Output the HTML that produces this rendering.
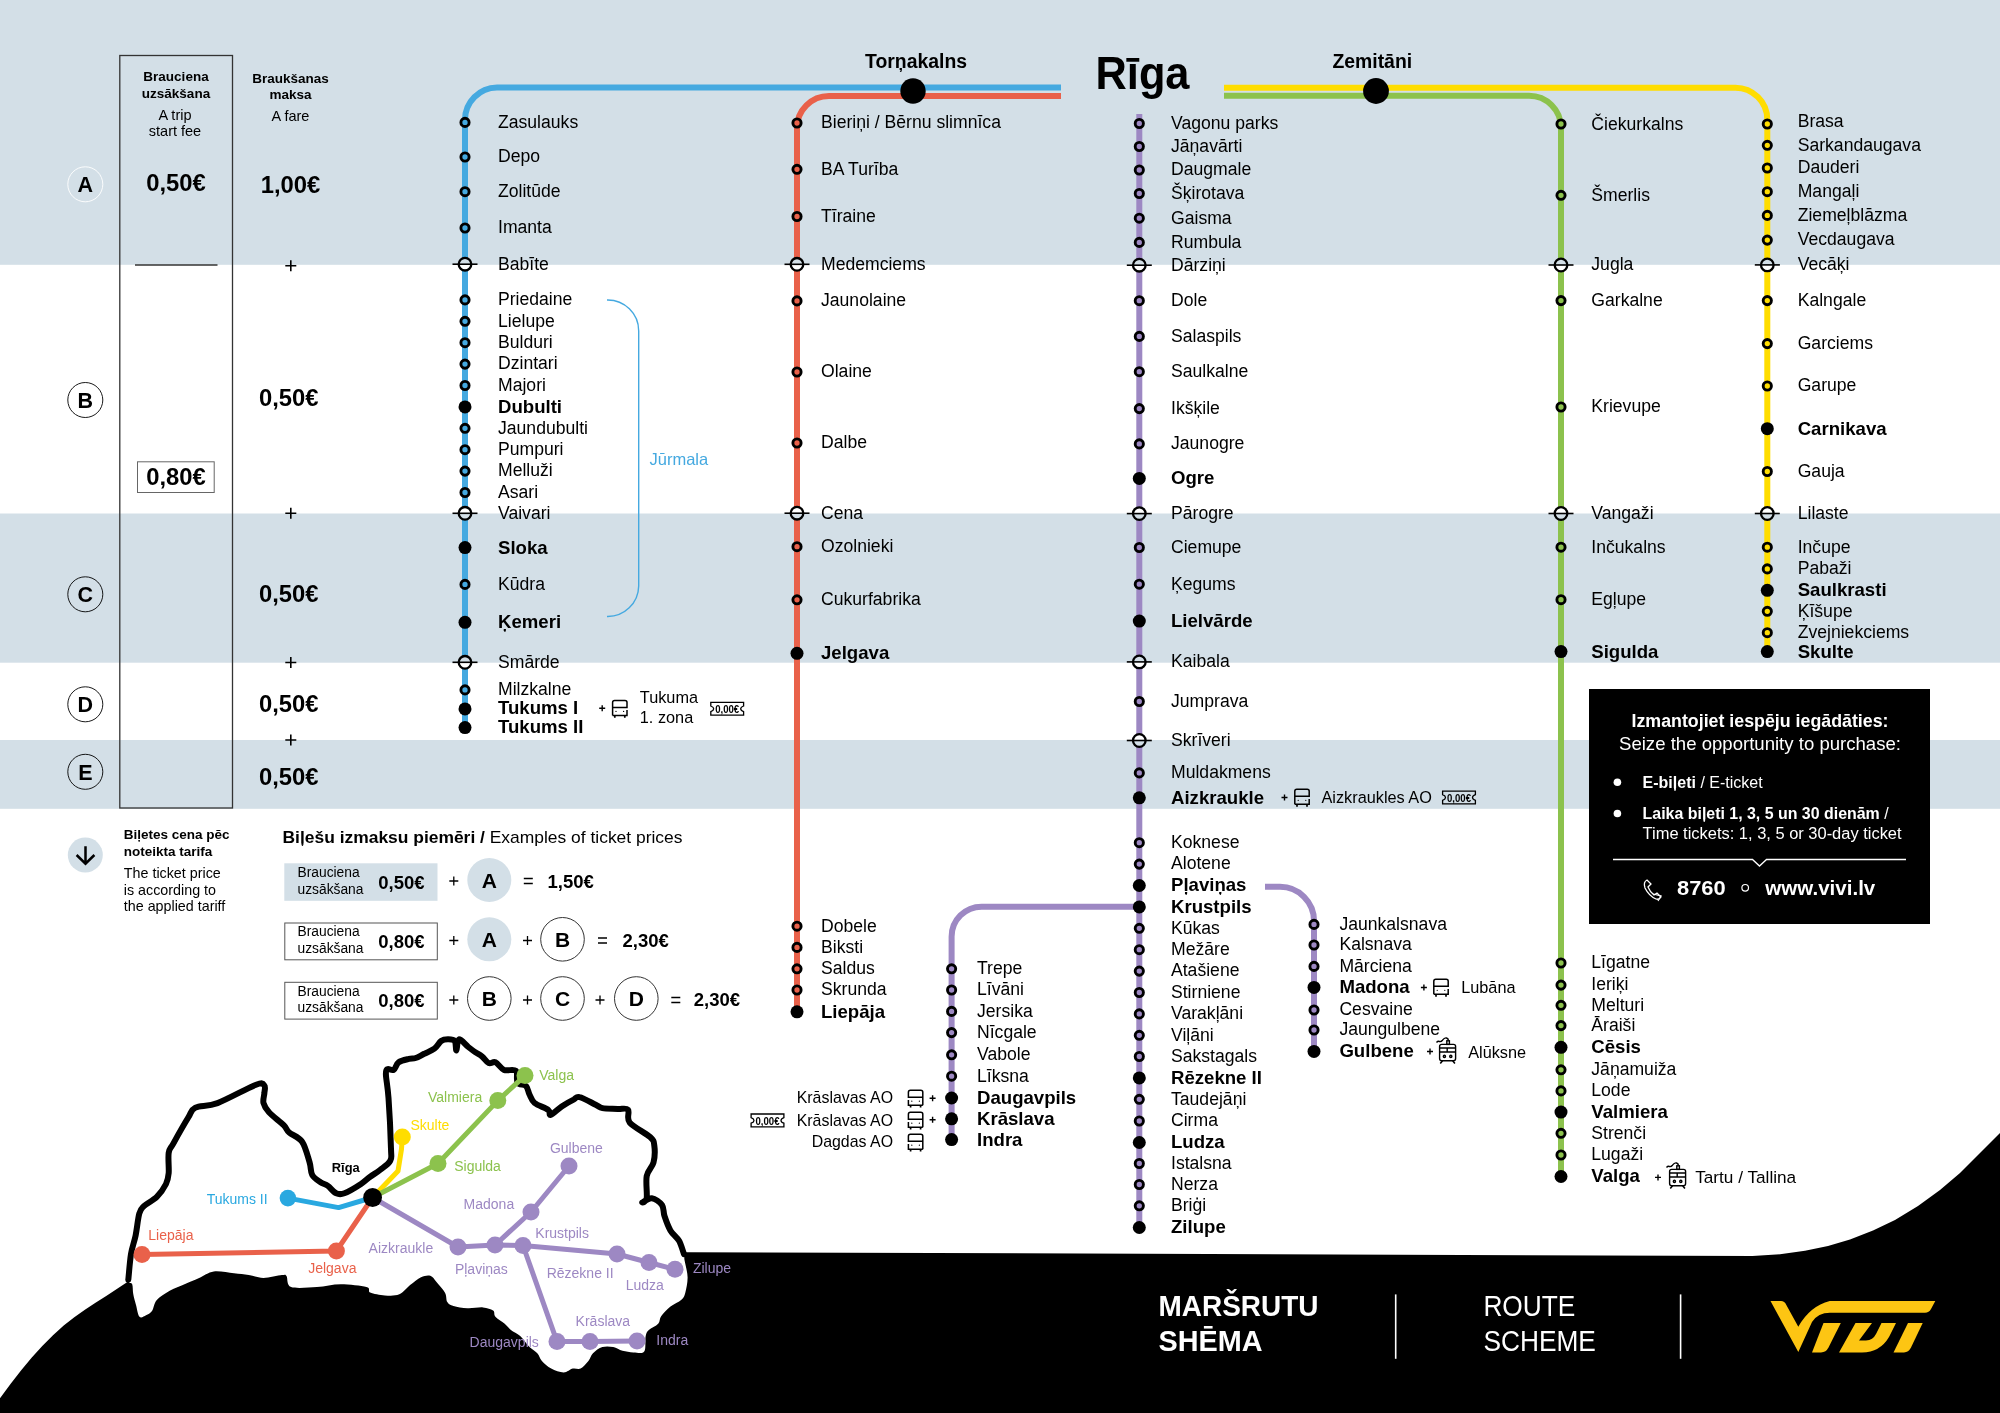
<!DOCTYPE html>
<html><head><meta charset="utf-8"><title>Maršrutu shēma</title>
<style>html,body{margin:0;padding:0;background:#fff;} svg{display:block;will-change:transform;} text{font-family:"Liberation Sans",sans-serif;}</style>
</head><body>
<svg width="2000" height="1413" viewBox="0 0 2000 1413">
<rect x="0" y="0" width="2000" height="1413" fill="#fff"/>
<rect x="0" y="0" width="2000" height="264.8" fill="#d3dfe7"/>
<rect x="0" y="513.5" width="2000" height="149.2" fill="#d3dfe7"/>
<rect x="0" y="740" width="2000" height="68.8" fill="#d3dfe7"/>
<path d="M1061,87.6 H497 A32.4,32.4 0 0 0 465,120 V727.6" fill="none" stroke="#45a9e0" stroke-width="6"/>
<path d="M1061,96 H829 A32,32 0 0 0 797,128 V1011.8" fill="none" stroke="#e9614a" stroke-width="6"/>
<path d="M1139.3,114 V1227.5" fill="none" stroke="#9d88c3" stroke-width="6"/>
<path d="M1139.3,906.7 H981.6 A30,30 0 0 0 951.6,936.7 V1139.6" fill="none" stroke="#9d88c3" stroke-width="6"/>
<path d="M1265,886.8 H1280 A34,34 0 0 1 1314,920.8 V1051.4" fill="none" stroke="#9d88c3" stroke-width="6"/>
<path d="M1224,95.7 H1529 A32,32 0 0 1 1561,127.7 V1176.5" fill="none" stroke="#8cc24d" stroke-width="6"/>
<path d="M1224,87.7 H1735 A32,32 0 0 1 1767.3,119.7 V651.6" fill="none" stroke="#ffdd00" stroke-width="6"/>
<circle cx="913" cy="91" r="12.7" fill="#000"/>
<circle cx="1376" cy="91" r="12.9" fill="#000"/>
<circle cx="465" cy="122.4" r="4.1" fill="#45a9e0" stroke="#000" stroke-width="2.9"/>
<text x="498.0" y="127.7" font-size="17.6" fill="#000" >Zasulauks</text>
<circle cx="465" cy="157.0" r="4.1" fill="#45a9e0" stroke="#000" stroke-width="2.9"/>
<text x="498.0" y="162.3" font-size="17.6" fill="#000" >Depo</text>
<circle cx="465" cy="191.7" r="4.1" fill="#45a9e0" stroke="#000" stroke-width="2.9"/>
<text x="498.0" y="197.0" font-size="17.6" fill="#000" >Zolitūde</text>
<circle cx="465" cy="228.0" r="4.1" fill="#45a9e0" stroke="#000" stroke-width="2.9"/>
<text x="498.0" y="233.3" font-size="17.6" fill="#000" >Imanta</text>
<path d="M458.7,264.2 A6.3,6.3 0 0 1 471.3,264.2 Z" fill="#d3dfe7"/>
<path d="M458.7,264.2 A6.3,6.3 0 0 0 471.3,264.2 Z" fill="#fff"/>
<circle cx="465" cy="264.2" r="6.3" fill="none" stroke="#000" stroke-width="2.3"/>
<line x1="452.5" y1="264.2" x2="477.5" y2="264.2" stroke="#000" stroke-width="1.6"/>
<text x="498.0" y="269.5" font-size="17.6" fill="#000" >Babīte</text>
<circle cx="465" cy="299.9" r="4.1" fill="#45a9e0" stroke="#000" stroke-width="2.9"/>
<text x="498.0" y="305.2" font-size="17.6" fill="#000" >Priedaine</text>
<circle cx="465" cy="321.3" r="4.1" fill="#45a9e0" stroke="#000" stroke-width="2.9"/>
<text x="498.0" y="326.6" font-size="17.6" fill="#000" >Lielupe</text>
<circle cx="465" cy="342.7" r="4.1" fill="#45a9e0" stroke="#000" stroke-width="2.9"/>
<text x="498.0" y="348.0" font-size="17.6" fill="#000" >Bulduri</text>
<circle cx="465" cy="364.1" r="4.1" fill="#45a9e0" stroke="#000" stroke-width="2.9"/>
<text x="498.0" y="369.4" font-size="17.6" fill="#000" >Dzintari</text>
<circle cx="465" cy="385.5" r="4.1" fill="#45a9e0" stroke="#000" stroke-width="2.9"/>
<text x="498.0" y="390.8" font-size="17.6" fill="#000" >Majori</text>
<circle cx="465" cy="406.9" r="6.5" fill="#000"/>
<text x="498.0" y="412.8" font-size="18.6" font-weight="bold" fill="#000" >Dubulti</text>
<circle cx="465" cy="428.3" r="4.1" fill="#45a9e0" stroke="#000" stroke-width="2.9"/>
<text x="498.0" y="433.6" font-size="17.6" fill="#000" >Jaundubulti</text>
<circle cx="465" cy="449.7" r="4.1" fill="#45a9e0" stroke="#000" stroke-width="2.9"/>
<text x="498.0" y="455.0" font-size="17.6" fill="#000" >Pumpuri</text>
<circle cx="465" cy="471.1" r="4.1" fill="#45a9e0" stroke="#000" stroke-width="2.9"/>
<text x="498.0" y="476.4" font-size="17.6" fill="#000" >Melluži</text>
<circle cx="465" cy="492.5" r="4.1" fill="#45a9e0" stroke="#000" stroke-width="2.9"/>
<text x="498.0" y="497.8" font-size="17.6" fill="#000" >Asari</text>
<path d="M458.7,513.3 A6.3,6.3 0 0 1 471.3,513.3 Z" fill="#fff"/>
<path d="M458.7,513.3 A6.3,6.3 0 0 0 471.3,513.3 Z" fill="#d3dfe7"/>
<circle cx="465" cy="513.3" r="6.3" fill="none" stroke="#000" stroke-width="2.3"/>
<line x1="452.5" y1="513.3" x2="477.5" y2="513.3" stroke="#000" stroke-width="1.6"/>
<text x="498.0" y="518.6" font-size="17.6" fill="#000" >Vaivari</text>
<circle cx="465" cy="547.6" r="6.5" fill="#000"/>
<text x="498.0" y="553.5" font-size="18.6" font-weight="bold" fill="#000" >Sloka</text>
<circle cx="465" cy="584.4" r="4.1" fill="#45a9e0" stroke="#000" stroke-width="2.9"/>
<text x="498.0" y="589.7" font-size="17.6" fill="#000" >Kūdra</text>
<circle cx="465" cy="622.3" r="6.5" fill="#000"/>
<text x="498.0" y="628.2" font-size="18.6" font-weight="bold" fill="#000" >Ķemeri</text>
<path d="M458.7,662.3 A6.3,6.3 0 0 1 471.3,662.3 Z" fill="#d3dfe7"/>
<path d="M458.7,662.3 A6.3,6.3 0 0 0 471.3,662.3 Z" fill="#fff"/>
<circle cx="465" cy="662.3" r="6.3" fill="none" stroke="#000" stroke-width="2.3"/>
<line x1="452.5" y1="662.3" x2="477.5" y2="662.3" stroke="#000" stroke-width="1.6"/>
<text x="498.0" y="667.6" font-size="17.6" fill="#000" >Smārde</text>
<circle cx="465" cy="689.9" r="4.1" fill="#45a9e0" stroke="#000" stroke-width="2.9"/>
<text x="498.0" y="695.3" font-size="17.6" fill="#000" >Milzkalne</text>
<circle cx="465" cy="708.9" r="6.5" fill="#000"/>
<text x="498.0" y="714.1" font-size="18.6" font-weight="bold" fill="#000" >Tukums I</text>
<circle cx="465" cy="727.6" r="6.5" fill="#000"/>
<text x="498.0" y="732.8" font-size="18.6" font-weight="bold" fill="#000" >Tukums II</text>
<circle cx="797" cy="123.0" r="4.1" fill="#e9614a" stroke="#000" stroke-width="2.9"/>
<text x="821.0" y="128.3" font-size="17.6" fill="#000" >Bieriņi / Bērnu slimnīca</text>
<circle cx="797" cy="169.3" r="4.1" fill="#e9614a" stroke="#000" stroke-width="2.9"/>
<text x="821.0" y="174.6" font-size="17.6" fill="#000" >BA Turība</text>
<circle cx="797" cy="216.5" r="4.1" fill="#e9614a" stroke="#000" stroke-width="2.9"/>
<text x="821.0" y="221.8" font-size="17.6" fill="#000" >Tīraine</text>
<path d="M790.7,264.3 A6.3,6.3 0 0 1 803.3,264.3 Z" fill="#d3dfe7"/>
<path d="M790.7,264.3 A6.3,6.3 0 0 0 803.3,264.3 Z" fill="#fff"/>
<circle cx="797" cy="264.3" r="6.3" fill="none" stroke="#000" stroke-width="2.3"/>
<line x1="784.5" y1="264.3" x2="809.5" y2="264.3" stroke="#000" stroke-width="1.6"/>
<text x="821.0" y="269.6" font-size="17.6" fill="#000" >Medemciems</text>
<circle cx="797" cy="300.9" r="4.1" fill="#e9614a" stroke="#000" stroke-width="2.9"/>
<text x="821.0" y="306.2" font-size="17.6" fill="#000" >Jaunolaine</text>
<circle cx="797" cy="372.0" r="4.1" fill="#e9614a" stroke="#000" stroke-width="2.9"/>
<text x="821.0" y="377.3" font-size="17.6" fill="#000" >Olaine</text>
<circle cx="797" cy="443.0" r="4.1" fill="#e9614a" stroke="#000" stroke-width="2.9"/>
<text x="821.0" y="448.3" font-size="17.6" fill="#000" >Dalbe</text>
<path d="M790.7,513.2 A6.3,6.3 0 0 1 803.3,513.2 Z" fill="#fff"/>
<path d="M790.7,513.2 A6.3,6.3 0 0 0 803.3,513.2 Z" fill="#d3dfe7"/>
<circle cx="797" cy="513.2" r="6.3" fill="none" stroke="#000" stroke-width="2.3"/>
<line x1="784.5" y1="513.2" x2="809.5" y2="513.2" stroke="#000" stroke-width="1.6"/>
<text x="821.0" y="518.5" font-size="17.6" fill="#000" >Cena</text>
<circle cx="797" cy="546.7" r="4.1" fill="#e9614a" stroke="#000" stroke-width="2.9"/>
<text x="821.0" y="552.0" font-size="17.6" fill="#000" >Ozolnieki</text>
<circle cx="797" cy="599.8" r="4.1" fill="#e9614a" stroke="#000" stroke-width="2.9"/>
<text x="821.0" y="605.1" font-size="17.6" fill="#000" >Cukurfabrika</text>
<circle cx="797" cy="653.3" r="6.5" fill="#000"/>
<text x="821.0" y="659.2" font-size="18.6" font-weight="bold" fill="#000" >Jelgava</text>
<circle cx="797" cy="926.2" r="4.1" fill="#e9614a" stroke="#000" stroke-width="2.9"/>
<text x="821.0" y="931.5" font-size="17.6" fill="#000" >Dobele</text>
<circle cx="797" cy="947.4" r="4.1" fill="#e9614a" stroke="#000" stroke-width="2.9"/>
<text x="821.0" y="952.7" font-size="17.6" fill="#000" >Biksti</text>
<circle cx="797" cy="968.8" r="4.1" fill="#e9614a" stroke="#000" stroke-width="2.9"/>
<text x="821.0" y="974.1" font-size="17.6" fill="#000" >Saldus</text>
<circle cx="797" cy="990.0" r="4.1" fill="#e9614a" stroke="#000" stroke-width="2.9"/>
<text x="821.0" y="995.3" font-size="17.6" fill="#000" >Skrunda</text>
<circle cx="797" cy="1011.8" r="6.5" fill="#000"/>
<text x="821.0" y="1017.7" font-size="18.6" font-weight="bold" fill="#000" >Liepāja</text>
<circle cx="1139.3" cy="123.5" r="4.1" fill="#9d88c3" stroke="#000" stroke-width="2.9"/>
<text x="1171.0" y="128.8" font-size="17.6" fill="#000" >Vagonu parks</text>
<circle cx="1139.3" cy="146.5" r="4.1" fill="#9d88c3" stroke="#000" stroke-width="2.9"/>
<text x="1171.0" y="151.8" font-size="17.6" fill="#000" >Jāņavārti</text>
<circle cx="1139.3" cy="170.0" r="4.1" fill="#9d88c3" stroke="#000" stroke-width="2.9"/>
<text x="1171.0" y="175.3" font-size="17.6" fill="#000" >Daugmale</text>
<circle cx="1139.3" cy="193.5" r="4.1" fill="#9d88c3" stroke="#000" stroke-width="2.9"/>
<text x="1171.0" y="198.8" font-size="17.6" fill="#000" >Šķirotava</text>
<circle cx="1139.3" cy="218.2" r="4.1" fill="#9d88c3" stroke="#000" stroke-width="2.9"/>
<text x="1171.0" y="223.5" font-size="17.6" fill="#000" >Gaisma</text>
<circle cx="1139.3" cy="242.4" r="4.1" fill="#9d88c3" stroke="#000" stroke-width="2.9"/>
<text x="1171.0" y="247.7" font-size="17.6" fill="#000" >Rumbula</text>
<path d="M1133.0,265.2 A6.3,6.3 0 0 1 1145.6,265.2 Z" fill="#d3dfe7"/>
<path d="M1133.0,265.2 A6.3,6.3 0 0 0 1145.6,265.2 Z" fill="#fff"/>
<circle cx="1139.3" cy="265.2" r="6.3" fill="none" stroke="#000" stroke-width="2.3"/>
<line x1="1126.8" y1="265.2" x2="1151.8" y2="265.2" stroke="#000" stroke-width="1.6"/>
<text x="1171.0" y="270.5" font-size="17.6" fill="#000" >Dārziņi</text>
<circle cx="1139.3" cy="300.7" r="4.1" fill="#9d88c3" stroke="#000" stroke-width="2.9"/>
<text x="1171.0" y="306.0" font-size="17.6" fill="#000" >Dole</text>
<circle cx="1139.3" cy="336.4" r="4.1" fill="#9d88c3" stroke="#000" stroke-width="2.9"/>
<text x="1171.0" y="341.7" font-size="17.6" fill="#000" >Salaspils</text>
<circle cx="1139.3" cy="371.7" r="4.1" fill="#9d88c3" stroke="#000" stroke-width="2.9"/>
<text x="1171.0" y="377.0" font-size="17.6" fill="#000" >Saulkalne</text>
<circle cx="1139.3" cy="408.6" r="4.1" fill="#9d88c3" stroke="#000" stroke-width="2.9"/>
<text x="1171.0" y="413.9" font-size="17.6" fill="#000" >Ikšķile</text>
<circle cx="1139.3" cy="443.9" r="4.1" fill="#9d88c3" stroke="#000" stroke-width="2.9"/>
<text x="1171.0" y="449.2" font-size="17.6" fill="#000" >Jaunogre</text>
<circle cx="1139.3" cy="478.4" r="6.5" fill="#000"/>
<text x="1171.0" y="484.3" font-size="18.6" font-weight="bold" fill="#000" >Ogre</text>
<path d="M1133.0,513.6 A6.3,6.3 0 0 1 1145.6,513.6 Z" fill="#fff"/>
<path d="M1133.0,513.6 A6.3,6.3 0 0 0 1145.6,513.6 Z" fill="#d3dfe7"/>
<circle cx="1139.3" cy="513.6" r="6.3" fill="none" stroke="#000" stroke-width="2.3"/>
<line x1="1126.8" y1="513.6" x2="1151.8" y2="513.6" stroke="#000" stroke-width="1.6"/>
<text x="1171.0" y="518.9" font-size="17.6" fill="#000" >Pārogre</text>
<circle cx="1139.3" cy="547.5" r="4.1" fill="#9d88c3" stroke="#000" stroke-width="2.9"/>
<text x="1171.0" y="552.8" font-size="17.6" fill="#000" >Ciemupe</text>
<circle cx="1139.3" cy="584.2" r="4.1" fill="#9d88c3" stroke="#000" stroke-width="2.9"/>
<text x="1171.0" y="589.5" font-size="17.6" fill="#000" >Ķegums</text>
<circle cx="1139.3" cy="621.1" r="6.5" fill="#000"/>
<text x="1171.0" y="627.0" font-size="18.6" font-weight="bold" fill="#000" >Lielvārde</text>
<path d="M1133.0,661.9 A6.3,6.3 0 0 1 1145.6,661.9 Z" fill="#d3dfe7"/>
<path d="M1133.0,661.9 A6.3,6.3 0 0 0 1145.6,661.9 Z" fill="#fff"/>
<circle cx="1139.3" cy="661.9" r="6.3" fill="none" stroke="#000" stroke-width="2.3"/>
<line x1="1126.8" y1="661.9" x2="1151.8" y2="661.9" stroke="#000" stroke-width="1.6"/>
<text x="1171.0" y="667.2" font-size="17.6" fill="#000" >Kaibala</text>
<circle cx="1139.3" cy="701.5" r="4.1" fill="#9d88c3" stroke="#000" stroke-width="2.9"/>
<text x="1171.0" y="706.8" font-size="17.6" fill="#000" >Jumprava</text>
<path d="M1133.0,740.5 A6.3,6.3 0 0 1 1145.6,740.5 Z" fill="#fff"/>
<path d="M1133.0,740.5 A6.3,6.3 0 0 0 1145.6,740.5 Z" fill="#d3dfe7"/>
<circle cx="1139.3" cy="740.5" r="6.3" fill="none" stroke="#000" stroke-width="2.3"/>
<line x1="1126.8" y1="740.5" x2="1151.8" y2="740.5" stroke="#000" stroke-width="1.6"/>
<text x="1171.0" y="745.8" font-size="17.6" fill="#000" >Skrīveri</text>
<circle cx="1139.3" cy="772.9" r="4.1" fill="#9d88c3" stroke="#000" stroke-width="2.9"/>
<text x="1171.0" y="778.2" font-size="17.6" fill="#000" >Muldakmens</text>
<circle cx="1139.3" cy="797.8" r="6.5" fill="#000"/>
<text x="1171.0" y="803.7" font-size="18.6" font-weight="bold" fill="#000" >Aizkraukle</text>
<circle cx="1139.3" cy="842.7" r="4.1" fill="#9d88c3" stroke="#000" stroke-width="2.9"/>
<text x="1171.0" y="848.0" font-size="17.6" fill="#000" >Koknese</text>
<circle cx="1139.3" cy="864.1" r="4.1" fill="#9d88c3" stroke="#000" stroke-width="2.9"/>
<text x="1171.0" y="869.4" font-size="17.6" fill="#000" >Alotene</text>
<circle cx="1139.3" cy="885.5" r="6.5" fill="#000"/>
<text x="1171.0" y="891.4" font-size="18.6" font-weight="bold" fill="#000" >Pļaviņas</text>
<circle cx="1139.3" cy="906.9" r="6.5" fill="#000"/>
<text x="1171.0" y="912.8" font-size="18.6" font-weight="bold" fill="#000" >Krustpils</text>
<circle cx="1139.3" cy="928.3" r="4.1" fill="#9d88c3" stroke="#000" stroke-width="2.9"/>
<text x="1171.0" y="933.6" font-size="17.6" fill="#000" >Kūkas</text>
<circle cx="1139.3" cy="949.7" r="4.1" fill="#9d88c3" stroke="#000" stroke-width="2.9"/>
<text x="1171.0" y="955.0" font-size="17.6" fill="#000" >Mežāre</text>
<circle cx="1139.3" cy="971.1" r="4.1" fill="#9d88c3" stroke="#000" stroke-width="2.9"/>
<text x="1171.0" y="976.4" font-size="17.6" fill="#000" >Atašiene</text>
<circle cx="1139.3" cy="992.5" r="4.1" fill="#9d88c3" stroke="#000" stroke-width="2.9"/>
<text x="1171.0" y="997.8" font-size="17.6" fill="#000" >Stirniene</text>
<circle cx="1139.3" cy="1013.9" r="4.1" fill="#9d88c3" stroke="#000" stroke-width="2.9"/>
<text x="1171.0" y="1019.2" font-size="17.6" fill="#000" >Varakļāni</text>
<circle cx="1139.3" cy="1035.3" r="4.1" fill="#9d88c3" stroke="#000" stroke-width="2.9"/>
<text x="1171.0" y="1040.6" font-size="17.6" fill="#000" >Viļāni</text>
<circle cx="1139.3" cy="1056.5" r="4.1" fill="#9d88c3" stroke="#000" stroke-width="2.9"/>
<text x="1171.0" y="1061.8" font-size="17.6" fill="#000" >Sakstagals</text>
<circle cx="1139.3" cy="1077.9" r="6.5" fill="#000"/>
<text x="1171.0" y="1083.8" font-size="18.6" font-weight="bold" fill="#000" >Rēzekne II</text>
<circle cx="1139.3" cy="1099.3" r="4.1" fill="#9d88c3" stroke="#000" stroke-width="2.9"/>
<text x="1171.0" y="1104.6" font-size="17.6" fill="#000" >Taudejāņi</text>
<circle cx="1139.3" cy="1121.0" r="4.1" fill="#9d88c3" stroke="#000" stroke-width="2.9"/>
<text x="1171.0" y="1126.3" font-size="17.6" fill="#000" >Cirma</text>
<circle cx="1139.3" cy="1142.5" r="6.5" fill="#000"/>
<text x="1171.0" y="1148.4" font-size="18.6" font-weight="bold" fill="#000" >Ludza</text>
<circle cx="1139.3" cy="1163.5" r="4.1" fill="#9d88c3" stroke="#000" stroke-width="2.9"/>
<text x="1171.0" y="1168.8" font-size="17.6" fill="#000" >Istalsna</text>
<circle cx="1139.3" cy="1184.5" r="4.1" fill="#9d88c3" stroke="#000" stroke-width="2.9"/>
<text x="1171.0" y="1189.8" font-size="17.6" fill="#000" >Nerza</text>
<circle cx="1139.3" cy="1205.8" r="4.1" fill="#9d88c3" stroke="#000" stroke-width="2.9"/>
<text x="1171.0" y="1211.1" font-size="17.6" fill="#000" >Briģi</text>
<circle cx="1139.3" cy="1227.5" r="6.5" fill="#000"/>
<text x="1171.0" y="1233.4" font-size="18.6" font-weight="bold" fill="#000" >Zilupe</text>
<circle cx="951.6" cy="968.8" r="4.1" fill="#9d88c3" stroke="#000" stroke-width="2.9"/>
<text x="977.0" y="974.1" font-size="17.6" fill="#000" >Trepe</text>
<circle cx="951.6" cy="990.0" r="4.1" fill="#9d88c3" stroke="#000" stroke-width="2.9"/>
<text x="977.0" y="995.3" font-size="17.6" fill="#000" >Līvāni</text>
<circle cx="951.6" cy="1011.4" r="4.1" fill="#9d88c3" stroke="#000" stroke-width="2.9"/>
<text x="977.0" y="1016.7" font-size="17.6" fill="#000" >Jersika</text>
<circle cx="951.6" cy="1032.6" r="4.1" fill="#9d88c3" stroke="#000" stroke-width="2.9"/>
<text x="977.0" y="1037.9" font-size="17.6" fill="#000" >Nīcgale</text>
<circle cx="951.6" cy="1054.8" r="4.1" fill="#9d88c3" stroke="#000" stroke-width="2.9"/>
<text x="977.0" y="1060.1" font-size="17.6" fill="#000" >Vabole</text>
<circle cx="951.6" cy="1076.2" r="4.1" fill="#9d88c3" stroke="#000" stroke-width="2.9"/>
<text x="977.0" y="1081.5" font-size="17.6" fill="#000" >Līksna</text>
<circle cx="951.6" cy="1098.0" r="6.5" fill="#000"/>
<text x="977.0" y="1103.9" font-size="18.6" font-weight="bold" fill="#000" >Daugavpils</text>
<circle cx="951.6" cy="1118.8" r="6.5" fill="#000"/>
<text x="977.0" y="1124.7" font-size="18.6" font-weight="bold" fill="#000" >Krāslava</text>
<circle cx="951.6" cy="1139.6" r="6.5" fill="#000"/>
<text x="977.0" y="1145.5" font-size="18.6" font-weight="bold" fill="#000" >Indra</text>
<circle cx="1314" cy="924.4" r="4.1" fill="#9d88c3" stroke="#000" stroke-width="2.9"/>
<text x="1339.4" y="929.7" font-size="17.6" fill="#000" >Jaunkalsnava</text>
<circle cx="1314" cy="945.0" r="4.1" fill="#9d88c3" stroke="#000" stroke-width="2.9"/>
<text x="1339.4" y="950.3" font-size="17.6" fill="#000" >Kalsnava</text>
<circle cx="1314" cy="966.4" r="4.1" fill="#9d88c3" stroke="#000" stroke-width="2.9"/>
<text x="1339.4" y="971.7" font-size="17.6" fill="#000" >Mārciena</text>
<circle cx="1314" cy="987.4" r="6.5" fill="#000"/>
<text x="1339.4" y="993.3" font-size="18.6" font-weight="bold" fill="#000" >Madona</text>
<circle cx="1314" cy="1010.0" r="4.1" fill="#9d88c3" stroke="#000" stroke-width="2.9"/>
<text x="1339.4" y="1015.3" font-size="17.6" fill="#000" >Cesvaine</text>
<circle cx="1314" cy="1030.0" r="4.1" fill="#9d88c3" stroke="#000" stroke-width="2.9"/>
<text x="1339.4" y="1035.3" font-size="17.6" fill="#000" >Jaungulbene</text>
<circle cx="1314" cy="1051.4" r="6.5" fill="#000"/>
<text x="1339.4" y="1057.3" font-size="18.6" font-weight="bold" fill="#000" >Gulbene</text>
<circle cx="1561" cy="124.0" r="4.1" fill="#8cc24d" stroke="#000" stroke-width="2.9"/>
<text x="1591.3" y="130.3" font-size="17.6" fill="#000" >Čiekurkalns</text>
<circle cx="1561" cy="195.3" r="4.1" fill="#8cc24d" stroke="#000" stroke-width="2.9"/>
<text x="1591.3" y="200.6" font-size="17.6" fill="#000" >Šmerlis</text>
<path d="M1554.7,265 A6.3,6.3 0 0 1 1567.3,265 Z" fill="#d3dfe7"/>
<path d="M1554.7,265 A6.3,6.3 0 0 0 1567.3,265 Z" fill="#fff"/>
<circle cx="1561" cy="265.0" r="6.3" fill="none" stroke="#000" stroke-width="2.3"/>
<line x1="1548.5" y1="265" x2="1573.5" y2="265" stroke="#000" stroke-width="1.6"/>
<text x="1591.3" y="270.3" font-size="17.6" fill="#000" >Jugla</text>
<circle cx="1561" cy="300.6" r="4.1" fill="#8cc24d" stroke="#000" stroke-width="2.9"/>
<text x="1591.3" y="305.9" font-size="17.6" fill="#000" >Garkalne</text>
<circle cx="1561" cy="407.0" r="4.1" fill="#8cc24d" stroke="#000" stroke-width="2.9"/>
<text x="1591.3" y="412.3" font-size="17.6" fill="#000" >Krievupe</text>
<path d="M1554.7,513.5 A6.3,6.3 0 0 1 1567.3,513.5 Z" fill="#fff"/>
<path d="M1554.7,513.5 A6.3,6.3 0 0 0 1567.3,513.5 Z" fill="#d3dfe7"/>
<circle cx="1561" cy="513.5" r="6.3" fill="none" stroke="#000" stroke-width="2.3"/>
<line x1="1548.5" y1="513.5" x2="1573.5" y2="513.5" stroke="#000" stroke-width="1.6"/>
<text x="1591.3" y="518.8" font-size="17.6" fill="#000" >Vangaži</text>
<circle cx="1561" cy="547.2" r="4.1" fill="#8cc24d" stroke="#000" stroke-width="2.9"/>
<text x="1591.3" y="552.5" font-size="17.6" fill="#000" >Inčukalns</text>
<circle cx="1561" cy="599.7" r="4.1" fill="#8cc24d" stroke="#000" stroke-width="2.9"/>
<text x="1591.3" y="605.0" font-size="17.6" fill="#000" >Egļupe</text>
<circle cx="1561" cy="651.6" r="6.5" fill="#000"/>
<text x="1591.3" y="657.5" font-size="18.6" font-weight="bold" fill="#000" >Sigulda</text>
<circle cx="1561" cy="963.0" r="4.1" fill="#8cc24d" stroke="#000" stroke-width="2.9"/>
<text x="1591.3" y="968.3" font-size="17.6" fill="#000" >Līgatne</text>
<circle cx="1561" cy="985.1" r="4.1" fill="#8cc24d" stroke="#000" stroke-width="2.9"/>
<text x="1591.3" y="990.4" font-size="17.6" fill="#000" >Ieriķi</text>
<circle cx="1561" cy="1005.3" r="4.1" fill="#8cc24d" stroke="#000" stroke-width="2.9"/>
<text x="1591.3" y="1010.6" font-size="17.6" fill="#000" >Melturi</text>
<circle cx="1561" cy="1025.6" r="4.1" fill="#8cc24d" stroke="#000" stroke-width="2.9"/>
<text x="1591.3" y="1030.9" font-size="17.6" fill="#000" >Āraiši</text>
<circle cx="1561" cy="1047.3" r="6.5" fill="#000"/>
<text x="1591.3" y="1053.2" font-size="18.6" font-weight="bold" fill="#000" >Cēsis</text>
<circle cx="1561" cy="1069.8" r="4.1" fill="#8cc24d" stroke="#000" stroke-width="2.9"/>
<text x="1591.3" y="1075.1" font-size="17.6" fill="#000" >Jāņamuiža</text>
<circle cx="1561" cy="1090.9" r="4.1" fill="#8cc24d" stroke="#000" stroke-width="2.9"/>
<text x="1591.3" y="1096.2" font-size="17.6" fill="#000" >Lode</text>
<circle cx="1561" cy="1112.1" r="6.5" fill="#000"/>
<text x="1591.3" y="1118.0" font-size="18.6" font-weight="bold" fill="#000" >Valmiera</text>
<circle cx="1561" cy="1133.3" r="4.1" fill="#8cc24d" stroke="#000" stroke-width="2.9"/>
<text x="1591.3" y="1138.6" font-size="17.6" fill="#000" >Strenči</text>
<circle cx="1561" cy="1155.0" r="4.1" fill="#8cc24d" stroke="#000" stroke-width="2.9"/>
<text x="1591.3" y="1160.3" font-size="17.6" fill="#000" >Lugaži</text>
<circle cx="1561" cy="1176.5" r="6.5" fill="#000"/>
<text x="1591.3" y="1182.4" font-size="18.6" font-weight="bold" fill="#000" >Valga</text>
<circle cx="1767.3" cy="124.0" r="4.1" fill="#ffdd00" stroke="#000" stroke-width="2.9"/>
<text x="1797.7" y="127.0" font-size="17.6" fill="#000" >Brasa</text>
<circle cx="1767.3" cy="145.3" r="4.1" fill="#ffdd00" stroke="#000" stroke-width="2.9"/>
<text x="1797.7" y="150.6" font-size="17.6" fill="#000" >Sarkandaugava</text>
<circle cx="1767.3" cy="168.0" r="4.1" fill="#ffdd00" stroke="#000" stroke-width="2.9"/>
<text x="1797.7" y="173.3" font-size="17.6" fill="#000" >Dauderi</text>
<circle cx="1767.3" cy="191.7" r="4.1" fill="#ffdd00" stroke="#000" stroke-width="2.9"/>
<text x="1797.7" y="197.0" font-size="17.6" fill="#000" >Mangaļi</text>
<circle cx="1767.3" cy="215.4" r="4.1" fill="#ffdd00" stroke="#000" stroke-width="2.9"/>
<text x="1797.7" y="220.7" font-size="17.6" fill="#000" >Ziemeļblāzma</text>
<circle cx="1767.3" cy="240.1" r="4.1" fill="#ffdd00" stroke="#000" stroke-width="2.9"/>
<text x="1797.7" y="245.4" font-size="17.6" fill="#000" >Vecdaugava</text>
<path d="M1761.0,264.9 A6.3,6.3 0 0 1 1773.6,264.9 Z" fill="#d3dfe7"/>
<path d="M1761.0,264.9 A6.3,6.3 0 0 0 1773.6,264.9 Z" fill="#fff"/>
<circle cx="1767.3" cy="264.9" r="6.3" fill="none" stroke="#000" stroke-width="2.3"/>
<line x1="1754.8" y1="264.9" x2="1779.8" y2="264.9" stroke="#000" stroke-width="1.6"/>
<text x="1797.7" y="270.2" font-size="17.6" fill="#000" >Vecāķi</text>
<circle cx="1767.3" cy="300.6" r="4.1" fill="#ffdd00" stroke="#000" stroke-width="2.9"/>
<text x="1797.7" y="305.9" font-size="17.6" fill="#000" >Kalngale</text>
<circle cx="1767.3" cy="343.6" r="4.1" fill="#ffdd00" stroke="#000" stroke-width="2.9"/>
<text x="1797.7" y="348.9" font-size="17.6" fill="#000" >Garciems</text>
<circle cx="1767.3" cy="386.0" r="4.1" fill="#ffdd00" stroke="#000" stroke-width="2.9"/>
<text x="1797.7" y="391.3" font-size="17.6" fill="#000" >Garupe</text>
<circle cx="1767.3" cy="428.7" r="6.5" fill="#000"/>
<text x="1797.7" y="434.6" font-size="18.6" font-weight="bold" fill="#000" >Carnikava</text>
<circle cx="1767.3" cy="471.5" r="4.1" fill="#ffdd00" stroke="#000" stroke-width="2.9"/>
<text x="1797.7" y="476.8" font-size="17.6" fill="#000" >Gauja</text>
<path d="M1761.0,513.5 A6.3,6.3 0 0 1 1773.6,513.5 Z" fill="#fff"/>
<path d="M1761.0,513.5 A6.3,6.3 0 0 0 1773.6,513.5 Z" fill="#d3dfe7"/>
<circle cx="1767.3" cy="513.5" r="6.3" fill="none" stroke="#000" stroke-width="2.3"/>
<line x1="1754.8" y1="513.5" x2="1779.8" y2="513.5" stroke="#000" stroke-width="1.6"/>
<text x="1797.7" y="518.8" font-size="17.6" fill="#000" >Lilaste</text>
<circle cx="1767.3" cy="547.2" r="4.1" fill="#ffdd00" stroke="#000" stroke-width="2.9"/>
<text x="1797.7" y="552.5" font-size="17.6" fill="#000" >Inčupe</text>
<circle cx="1767.3" cy="568.9" r="4.1" fill="#ffdd00" stroke="#000" stroke-width="2.9"/>
<text x="1797.7" y="574.2" font-size="17.6" fill="#000" >Pabaži</text>
<circle cx="1767.3" cy="590.3" r="6.5" fill="#000"/>
<text x="1797.7" y="596.2" font-size="18.6" font-weight="bold" fill="#000" >Saulkrasti</text>
<circle cx="1767.3" cy="611.3" r="4.1" fill="#ffdd00" stroke="#000" stroke-width="2.9"/>
<text x="1797.7" y="616.6" font-size="17.6" fill="#000" >Ķīšupe</text>
<circle cx="1767.3" cy="632.7" r="4.1" fill="#ffdd00" stroke="#000" stroke-width="2.9"/>
<text x="1797.7" y="638.0" font-size="17.6" fill="#000" >Zvejniekciems</text>
<circle cx="1767.3" cy="651.6" r="6.5" fill="#000"/>
<text x="1797.7" y="657.5" font-size="18.6" font-weight="bold" fill="#000" >Skulte</text>
<text x="865.0" y="68.0" font-size="19.4" font-weight="bold" fill="#000" >Torņakalns</text>
<text x="1332.4" y="67.6" font-size="19.4" font-weight="bold" fill="#000" >Zemitāni</text>
<text x="1095.5" y="89.4" font-size="46.5" font-weight="bold" fill="#000" textLength="94" lengthAdjust="spacingAndGlyphs">Rīga</text>
<path d="M607,300 A31,31 0 0 1 638.7,331 V586 A31,31 0 0 1 607,616.5" fill="none" stroke="#45a9e0" stroke-width="1.4"/>
<text x="649.5" y="465.0" font-size="16.5" fill="#45a9e0" >Jūrmala</text>
<path d="M599.2,708.2 H605.2 M602.2,705.2 V711.2" stroke="#000" stroke-width="1.4"/>
<g transform="translate(611.8,699.6)" fill="none" stroke="#000" stroke-width="1.5"><path d="M0.8,15.8 V2.8 Q0.8,0.8 2.8,0.8 H13.2 Q15.2,0.8 15.2,2.8 V7.8 H0.8 M15.2,10.5 V15.8 H0.8"/><path d="M3,15.8 V18.2 M13,15.8 V18.2" stroke-width="1.7"/><path d="M4.2,11.8 h0.01 M11.8,11.8 h0.01" stroke-width="1.3" stroke-linecap="round"/></g>
<text x="639.8" y="702.8" font-size="16.3" fill="#000" >Tukuma</text>
<text x="639.8" y="722.8" font-size="16.3" fill="#000" >1. zona</text>
<g transform="translate(710.2,701.8)"><path d="M0.6,0.6 H33.4 V4.2 Q30.5,5.32 30.5,7.0 Q30.5,8.68 33.4,9.799999999999999 V13.4 H0.6 V9.799999999999999 Q3.5,8.68 3.5,7.0 Q3.5,5.32 0.6,4.2 Z" fill="none" stroke="#000" stroke-width="1.3"/><text x="17.0" y="11.200000000000001" font-size="10" font-weight="bold" text-anchor="middle" fill="#000" textLength="24" lengthAdjust="spacingAndGlyphs">0,00€</text></g>
<path d="M1281.5,797.5 H1287.5 M1284.5,794.5 V800.5" stroke="#000" stroke-width="1.4"/>
<g transform="translate(1294,788.5)" fill="none" stroke="#000" stroke-width="1.5"><path d="M0.8,15.8 V2.8 Q0.8,0.8 2.8,0.8 H13.2 Q15.2,0.8 15.2,2.8 V7.8 H0.8 M15.2,10.5 V15.8 H0.8"/><path d="M3,15.8 V18.2 M13,15.8 V18.2" stroke-width="1.7"/><path d="M4.2,11.8 h0.01 M11.8,11.8 h0.01" stroke-width="1.3" stroke-linecap="round"/></g>
<text x="1321.5" y="803.0" font-size="16.3" fill="#000" >Aizkraukles AO</text>
<g transform="translate(1442,790.5)"><path d="M0.6,0.6 H33.4 V4.2 Q30.5,5.32 30.5,7.0 Q30.5,8.68 33.4,9.799999999999999 V13.4 H0.6 V9.799999999999999 Q3.5,8.68 3.5,7.0 Q3.5,5.32 0.6,4.2 Z" fill="none" stroke="#000" stroke-width="1.3"/><text x="17.0" y="11.200000000000001" font-size="10" font-weight="bold" text-anchor="middle" fill="#000" textLength="24" lengthAdjust="spacingAndGlyphs">0,00€</text></g>
<path d="M1420.9,987.5 H1426.9 M1423.9,984.5 V990.5" stroke="#000" stroke-width="1.4"/>
<g transform="translate(1433,978.5)" fill="none" stroke="#000" stroke-width="1.5"><path d="M0.8,15.8 V2.8 Q0.8,0.8 2.8,0.8 H13.2 Q15.2,0.8 15.2,2.8 V7.8 H0.8 M15.2,10.5 V15.8 H0.8"/><path d="M3,15.8 V18.2 M13,15.8 V18.2" stroke-width="1.7"/><path d="M4.2,11.8 h0.01 M11.8,11.8 h0.01" stroke-width="1.3" stroke-linecap="round"/></g>
<text x="1461.2" y="993.0" font-size="16.3" fill="#000" >Lubāna</text>
<path d="M1427.0,1051.5 H1433.0 M1430,1048.5 V1054.5" stroke="#000" stroke-width="1.4"/>
<g transform="translate(1436,1037)" fill="none" stroke="#000" stroke-width="1.4"><path d="M0.5,5.5 Q2,3.8 3.5,4.5 Q5,5 6.5,3.2 Q8.5,0.5 10.5,1 Q12.3,1.5 12.5,3.5"/><rect x="10.8" y="3.8" width="2.6" height="3.6"/><path d="M3.6,9.5 Q3.6,7.4 5.8,7.4 H17.5 Q19.6,7.4 19.6,9.5 V21.5 Q19.6,23.8 17.3,23.8 H5.9 Q3.6,23.8 3.6,21.5 Z"/><path d="M3.6,11 H19.6 M3.6,15 H19.6 M11.2,11 V15"/><circle cx="8.4" cy="19.4" r="1.1"/><circle cx="14.8" cy="19.4" r="1.1"/><path d="M6.5,23.8 L4.3,26.5 M16.7,23.8 L18.9,26.5" stroke-width="1.6"/></g>
<text x="1468.2" y="1058.0" font-size="16.3" fill="#000" >Alūksne</text>
<path d="M1655.0,1177.4 H1661.0 M1658,1174.4 V1180.4" stroke="#000" stroke-width="1.4"/>
<g transform="translate(1666,1162)" fill="none" stroke="#000" stroke-width="1.4"><path d="M0.5,5.5 Q2,3.8 3.5,4.5 Q5,5 6.5,3.2 Q8.5,0.5 10.5,1 Q12.3,1.5 12.5,3.5"/><rect x="10.8" y="3.8" width="2.6" height="3.6"/><path d="M3.6,9.5 Q3.6,7.4 5.8,7.4 H17.5 Q19.6,7.4 19.6,9.5 V21.5 Q19.6,23.8 17.3,23.8 H5.9 Q3.6,23.8 3.6,21.5 Z"/><path d="M3.6,11 H19.6 M3.6,15 H19.6 M11.2,11 V15"/><circle cx="8.4" cy="19.4" r="1.1"/><circle cx="14.8" cy="19.4" r="1.1"/><path d="M6.5,23.8 L4.3,26.5 M16.7,23.8 L18.9,26.5" stroke-width="1.6"/></g>
<text x="1695.2" y="1183.0" font-size="17.2" fill="#000" >Tartu / Tallina</text>
<text x="893.0" y="1103.2" font-size="15.9" text-anchor="end" fill="#000" >Krāslavas AO</text>
<text x="893.0" y="1125.7" font-size="15.9" text-anchor="end" fill="#000" >Krāslavas AO</text>
<text x="893.0" y="1147.2" font-size="15.9" text-anchor="end" fill="#000" >Dagdas AO</text>
<g transform="translate(923.6,1089.4) scale(-1,1)" fill="none" stroke="#000" stroke-width="1.5"><path d="M0.8,15.8 V2.8 Q0.8,0.8 2.8,0.8 H13.2 Q15.2,0.8 15.2,2.8 V7.8 H0.8 M15.2,10.5 V15.8 H0.8"/><path d="M3,15.8 V18.2 M13,15.8 V18.2" stroke-width="1.7"/><path d="M4.2,11.8 h0.01 M11.8,11.8 h0.01" stroke-width="1.3" stroke-linecap="round"/></g>
<g transform="translate(923.6,1111.4) scale(-1,1)" fill="none" stroke="#000" stroke-width="1.5"><path d="M0.8,15.8 V2.8 Q0.8,0.8 2.8,0.8 H13.2 Q15.2,0.8 15.2,2.8 V7.8 H0.8 M15.2,10.5 V15.8 H0.8"/><path d="M3,15.8 V18.2 M13,15.8 V18.2" stroke-width="1.7"/><path d="M4.2,11.8 h0.01 M11.8,11.8 h0.01" stroke-width="1.3" stroke-linecap="round"/></g>
<g transform="translate(923.6,1133.4) scale(-1,1)" fill="none" stroke="#000" stroke-width="1.5"><path d="M0.8,15.8 V2.8 Q0.8,0.8 2.8,0.8 H13.2 Q15.2,0.8 15.2,2.8 V7.8 H0.8 M15.2,10.5 V15.8 H0.8"/><path d="M3,15.8 V18.2 M13,15.8 V18.2" stroke-width="1.7"/><path d="M4.2,11.8 h0.01 M11.8,11.8 h0.01" stroke-width="1.3" stroke-linecap="round"/></g>
<path d="M929.6,1098.2 H935.6 M932.6,1095.2 V1101.2" stroke="#000" stroke-width="1.4"/>
<path d="M929.6,1119.7 H935.6 M932.6,1116.7 V1122.7" stroke="#000" stroke-width="1.4"/>
<g transform="translate(750.5,1113.4)"><path d="M0.6,0.6 H33.4 V4.2 Q30.5,5.32 30.5,7.0 Q30.5,8.68 33.4,9.799999999999999 V13.4 H0.6 V9.799999999999999 Q3.5,8.68 3.5,7.0 Q3.5,5.32 0.6,4.2 Z" fill="none" stroke="#000" stroke-width="1.3"/><text x="17.0" y="11.200000000000001" font-size="10" font-weight="bold" text-anchor="middle" fill="#000" textLength="24" lengthAdjust="spacingAndGlyphs">0,00€</text></g>
<rect x="119.8" y="55.5" width="112.7" height="752.5" fill="none" stroke="#333" stroke-width="1.3"/>
<text x="176.0" y="81.3" font-size="13.5" font-weight="bold" text-anchor="middle" fill="#000" >Brauciena</text>
<text x="176.0" y="98.3" font-size="13.5" font-weight="bold" text-anchor="middle" fill="#000" >uzsākšana</text>
<text x="175.0" y="120.0" font-size="14.5" text-anchor="middle" fill="#000" >A trip</text>
<text x="175.0" y="136.3" font-size="14.5" text-anchor="middle" fill="#000" >start fee</text>
<text x="290.5" y="82.5" font-size="13.5" font-weight="bold" text-anchor="middle" fill="#000" >Braukšanas</text>
<text x="290.5" y="99.3" font-size="13.5" font-weight="bold" text-anchor="middle" fill="#000" >maksa</text>
<text x="290.5" y="121.3" font-size="14.5" text-anchor="middle" fill="#000" >A fare</text>
<text x="176.0" y="191.3" font-size="23.8" font-weight="bold" text-anchor="middle" fill="#000" >0,50€</text>
<text x="290.5" y="192.5" font-size="23.8" font-weight="bold" text-anchor="middle" fill="#000" >1,00€</text>
<line x1="135" y1="265" x2="217.5" y2="265" stroke="#333" stroke-width="1.3"/>
<rect x="137.5" y="461.8" width="76.7" height="30.7" fill="#fff" stroke="#666" stroke-width="1"/>
<text x="176.0" y="485.3" font-size="23.8" font-weight="bold" text-anchor="middle" fill="#000" >0,80€</text>
<text x="288.8" y="406.3" font-size="23.8" font-weight="bold" text-anchor="middle" fill="#000" >0,50€</text>
<text x="288.8" y="602.0" font-size="23.8" font-weight="bold" text-anchor="middle" fill="#000" >0,50€</text>
<text x="288.8" y="711.8" font-size="23.8" font-weight="bold" text-anchor="middle" fill="#000" >0,50€</text>
<text x="288.8" y="784.5" font-size="23.8" font-weight="bold" text-anchor="middle" fill="#000" >0,50€</text>
<path d="M285.3,265.7 H296.3 M290.8,260.2 V271.2" stroke="#000" stroke-width="1.6"/>
<path d="M285.3,513.3 H296.3 M290.8,507.79999999999995 V518.8" stroke="#000" stroke-width="1.6"/>
<path d="M285.3,662.5 H296.3 M290.8,657.0 V668.0" stroke="#000" stroke-width="1.6"/>
<path d="M285.3,740 H296.3 M290.8,734.5 V745.5" stroke="#000" stroke-width="1.6"/>
<circle cx="85.3" cy="184.3" r="17.5" fill="none" stroke="#fff" stroke-width="0.9"/>
<text x="85.3" y="192.3" font-size="21.5" font-weight="bold" text-anchor="middle" fill="#000" >A</text>
<circle cx="85.3" cy="400" r="17.5" fill="none" stroke="#000" stroke-width="0.9"/>
<text x="85.3" y="408.0" font-size="21.5" font-weight="bold" text-anchor="middle" fill="#000" >B</text>
<circle cx="85.3" cy="594.3" r="17.5" fill="none" stroke="#000" stroke-width="0.9"/>
<text x="85.3" y="602.3" font-size="21.5" font-weight="bold" text-anchor="middle" fill="#000" >C</text>
<circle cx="85.3" cy="704.3" r="17.5" fill="none" stroke="#000" stroke-width="0.9"/>
<text x="85.3" y="712.3" font-size="21.5" font-weight="bold" text-anchor="middle" fill="#000" >D</text>
<circle cx="85.3" cy="771.8" r="17.5" fill="none" stroke="#000" stroke-width="0.9"/>
<text x="85.3" y="779.8" font-size="21.5" font-weight="bold" text-anchor="middle" fill="#000" >E</text>
<circle cx="85.3" cy="855" r="17.5" fill="#d3dfe7"/>
<path d="M85.5,846.3 V863 M76.6,855 L85.5,863.7 L94.4,855" fill="none" stroke="#000" stroke-width="2.5"/>
<text x="123.8" y="838.8" font-size="13.5" font-weight="bold" fill="#000" >Biļetes cena pēc</text>
<text x="123.8" y="855.5" font-size="13.5" font-weight="bold" fill="#000" >noteikta tarifa</text>
<text x="123.8" y="877.5" font-size="14.3" fill="#000" >The ticket price</text>
<text x="123.8" y="894.5" font-size="14.3" fill="#000" >is according to</text>
<text x="123.8" y="911.3" font-size="14.3" fill="#000" >the applied tariff</text>
<text x="282.5" y="842.5" font-size="17" fill="#000" textLength="400" lengthAdjust="spacingAndGlyphs"><tspan font-weight="bold">Biļešu izmaksu piemēri /</tspan> Examples of ticket prices</text>
<rect x="284.3" y="863.3" width="153.2" height="37.5" fill="#d3dfe7"/>
<text x="297.5" y="877.1" font-size="13.8" fill="#000" >Brauciena</text>
<text x="297.5" y="893.8" font-size="13.8" fill="#000" >uzsākšana</text>
<text x="378.3" y="888.8" font-size="18.5" font-weight="bold" fill="#000" >0,50€</text>
<path d="M449.3,881 H458.3 M453.8,876.5 V885.5" stroke="#000" stroke-width="1.3"/>
<circle cx="489.3" cy="880" r="22" fill="#d3dfe7"/>
<text x="489.3" y="887.7" font-size="21" font-weight="bold" text-anchor="middle" fill="#000" >A</text>
<path d="M523.8,878.5 H532.8 M523.8,883.5 H532.8" stroke="#000" stroke-width="1.3"/>
<text x="547.5" y="887.5" font-size="18.5" font-weight="bold" fill="#000" >1,50€</text>
<rect x="284.8" y="923.0" width="152.5" height="36.8" fill="#fff" stroke="#555" stroke-width="1"/>
<text x="297.5" y="936.3" font-size="13.8" fill="#000" >Brauciena</text>
<text x="297.5" y="953.0" font-size="13.8" fill="#000" >uzsākšana</text>
<text x="378.3" y="948.0" font-size="18.5" font-weight="bold" fill="#000" >0,80€</text>
<path d="M449.3,940.5 H458.3 M453.8,936.0 V945.0" stroke="#000" stroke-width="1.3"/>
<circle cx="489.3" cy="939.3" r="22" fill="#d3dfe7"/>
<text x="489.3" y="947.0" font-size="21" font-weight="bold" text-anchor="middle" fill="#000" >A</text>
<path d="M523.0,940.5 H532.0 M527.5,936.0 V945.0" stroke="#000" stroke-width="1.3"/>
<circle cx="562.5" cy="939.3" r="21.8" fill="#fff" stroke="#333" stroke-width="1"/>
<text x="562.5" y="947.0" font-size="21" font-weight="bold" text-anchor="middle" fill="#000" >B</text>
<path d="M598.0,938.0 H607.0 M598.0,943.0 H607.0" stroke="#000" stroke-width="1.3"/>
<text x="622.5" y="946.5" font-size="18.5" font-weight="bold" fill="#000" >2,30€</text>
<rect x="284.8" y="982.3" width="152.5" height="36.8" fill="#fff" stroke="#555" stroke-width="1"/>
<text x="297.5" y="995.6" font-size="13.8" fill="#000" >Brauciena</text>
<text x="297.5" y="1012.3" font-size="13.8" fill="#000" >uzsākšana</text>
<text x="378.3" y="1007.3" font-size="18.5" font-weight="bold" fill="#000" >0,80€</text>
<path d="M449.3,1000 H458.3 M453.8,995.5 V1004.5" stroke="#000" stroke-width="1.3"/>
<circle cx="489.3" cy="998.5" r="21.8" fill="#fff" stroke="#333" stroke-width="1"/>
<text x="489.3" y="1006.2" font-size="21" font-weight="bold" text-anchor="middle" fill="#000" >B</text>
<path d="M523.0,1000 H532.0 M527.5,995.5 V1004.5" stroke="#000" stroke-width="1.3"/>
<circle cx="562.5" cy="998.5" r="21.8" fill="#fff" stroke="#333" stroke-width="1"/>
<text x="562.5" y="1006.2" font-size="21" font-weight="bold" text-anchor="middle" fill="#000" >C</text>
<path d="M595.5,1000 H604.5 M600,995.5 V1004.5" stroke="#000" stroke-width="1.3"/>
<circle cx="636.3" cy="998.5" r="21.8" fill="#fff" stroke="#333" stroke-width="1"/>
<text x="636.3" y="1006.2" font-size="21" font-weight="bold" text-anchor="middle" fill="#000" >D</text>
<path d="M671.3,997.5 H680.3 M671.3,1002.5 H680.3" stroke="#000" stroke-width="1.3"/>
<text x="693.8" y="1006.0" font-size="18.5" font-weight="bold" fill="#000" >2,30€</text>
<rect x="1589" y="689" width="341" height="235" fill="#000"/>
<text x="1760.0" y="727.3" font-size="18" font-weight="bold" text-anchor="middle" fill="#fff" textLength="257" lengthAdjust="spacingAndGlyphs">Izmantojiet iespēju iegādāties:</text>
<text x="1760.0" y="750.0" font-size="18.2" text-anchor="middle" fill="#fff" textLength="282" lengthAdjust="spacingAndGlyphs">Seize the opportunity to purchase:</text>
<circle cx="1617.4" cy="782.3" r="3.8" fill="#fff"/>
<circle cx="1617.4" cy="813.5" r="3.8" fill="#fff"/>
<text x="1642.6" y="788" font-size="16" fill="#fff"><tspan font-weight="bold">E-biļeti</tspan> / E-ticket</text>
<text x="1642.6" y="819" font-size="16" fill="#fff" textLength="246" lengthAdjust="spacingAndGlyphs"><tspan font-weight="bold">Laika biļeti 1, 3, 5 un 30 dienām</tspan> /</text>
<text x="1642.6" y="839" font-size="16" fill="#fff" textLength="259" lengthAdjust="spacingAndGlyphs">Time tickets: 1, 3, 5 or 30-day ticket</text>
<path d="M1613,859.5 H1752.5 L1759.5,866 L1766.5,859.5 H1906" fill="none" stroke="#fff" stroke-width="1.3"/>
<path d="M1647,880 Q1643,882 1645,888 Q1649,896 1656,899 Q1659,900 1661,897 L1657,893 L1654,895 Q1650,892 1648,887 L1651,884 Z" fill="none" stroke="#fff" stroke-width="1.3"/>
<path d="M1653,894 L1661,896 L1658,901" fill="none" stroke="#fff" stroke-width="1.2"/>
<text x="1677.0" y="895.0" font-size="20.5" font-weight="bold" fill="#fff" textLength="48.7" lengthAdjust="spacingAndGlyphs">8760</text>
<circle cx="1745.2" cy="887.8" r="3.3" fill="none" stroke="#fff" stroke-width="1.2"/>
<text x="1765.3" y="895.0" font-size="20.5" font-weight="bold" fill="#fff" textLength="110" lengthAdjust="spacingAndGlyphs">www.vivi.lv</text>
<path d="M0,1413 V1398.3 L10.5,1384 L21.2,1370.2 L31.8,1357.5 L42.5,1345.8 L53,1335.3 L63.7,1325.6 L74.3,1317.3 L84.9,1309.7 L95.5,1302.7 L106.2,1295.9 L127.4,1282.1 L160,1262 L220,1253 L690,1252.2 L1752.5,1256 L1780,1254.3 L1805,1250.8 L1828,1246 L1850,1239.5 L1873,1230.5 L1895,1220 L1918,1206 L1940,1190 L1960,1173 L1977.5,1155.5 L2000,1133 V1413 Z" fill="#000"/>
<path d="M128.3,1279.7 C128.1,1274.7 129.8,1261.3 131.0,1254.0 C132.2,1246.7 134.2,1242.3 135.6,1235.6 C137.0,1228.8 137.9,1218.4 139.3,1213.5 C140.7,1208.6 141.0,1208.9 143.9,1206.1 C146.8,1203.3 153.1,1200.6 156.8,1196.9 C160.5,1193.2 164.0,1188.0 166.0,1184.0 C168.0,1180.0 168.2,1178.2 168.7,1173.0 C169.1,1167.8 167.9,1157.7 168.7,1152.8 C169.5,1147.9 170.1,1149.4 173.3,1143.6 C176.5,1137.8 184.4,1123.8 188.1,1117.8 C191.8,1111.8 190.5,1110.2 195.4,1107.7 C200.3,1105.2 207.4,1106.9 217.5,1103.1 C227.6,1099.3 248.3,1087.6 256.1,1084.7 C263.9,1081.8 263.0,1084.2 264.4,1085.6 C265.8,1087.0 264.5,1090.1 264.4,1093.0 C264.2,1095.9 262.7,1099.9 263.5,1103.1 C264.3,1106.3 265.6,1108.6 269.0,1112.3 C272.4,1116.0 280.3,1121.8 283.7,1125.2 C287.1,1128.6 286.1,1129.8 289.2,1132.5 C292.3,1135.2 298.7,1136.8 302.1,1141.7 C305.5,1146.6 307.8,1156.5 309.5,1162.0 C311.2,1167.5 310.4,1171.5 312.2,1174.9 C314.0,1178.3 317.9,1180.4 320.5,1182.2 C323.1,1184.0 325.3,1184.1 327.9,1185.9 C330.5,1187.8 333.4,1192.1 336.2,1193.3 C338.9,1194.5 340.3,1194.8 344.4,1193.3 C348.5,1191.8 356.7,1186.8 361.0,1184.0 C365.3,1181.2 367.0,1179.0 370.2,1176.7 C373.4,1174.4 376.7,1172.7 380.0,1170.0 C383.3,1167.3 388.4,1164.3 390.2,1160.8 C392.0,1157.3 391.3,1159.4 391.0,1148.9 C390.7,1138.4 389.4,1110.4 388.5,1097.9 C387.6,1085.5 386.0,1079.0 385.9,1074.2 C385.8,1069.4 386.3,1069.8 387.6,1069.1 C388.9,1068.4 391.8,1071.0 393.6,1069.9 C395.5,1068.8 396.1,1064.1 398.7,1062.3 C401.2,1060.5 406.1,1059.6 408.9,1058.9 C411.7,1058.2 413.1,1058.8 415.7,1058.0 C418.2,1057.2 421.1,1055.3 424.2,1053.8 C427.3,1052.2 431.6,1050.8 434.4,1048.7 C437.2,1046.6 438.9,1042.6 441.1,1041.0 C443.4,1039.4 445.6,1039.3 447.9,1039.3 C450.2,1039.3 453.3,1039.2 454.7,1041.0 C456.1,1042.8 455.7,1050.7 456.4,1050.4 C457.1,1050.1 457.0,1039.9 459.0,1039.3 C461.0,1038.7 465.6,1044.9 468.3,1047.0 C471.0,1049.1 472.8,1050.5 475.1,1052.1 C477.4,1053.6 479.6,1054.5 481.9,1056.3 C484.2,1058.1 486.4,1062.1 488.7,1063.1 C491.0,1064.1 492.9,1061.2 495.5,1062.3 C498.1,1063.4 500.6,1068.5 504.0,1069.9 C507.4,1071.3 513.6,1068.7 515.9,1070.8 C518.2,1072.9 515.9,1080.2 517.6,1082.7 C519.3,1085.2 524.1,1084.1 526.1,1086.1 C528.1,1088.1 528.1,1091.7 529.5,1094.5 C530.9,1097.3 531.5,1100.5 534.6,1103.0 C537.7,1105.5 545.5,1107.8 548.2,1109.8 C550.9,1111.8 548.5,1115.5 550.7,1114.9 C553.0,1114.3 557.9,1109.0 561.7,1106.4 C565.5,1103.9 570.6,1101.1 573.6,1099.6 C576.6,1098.0 575.9,1096.2 579.6,1097.1 C583.3,1097.9 591.9,1102.9 595.7,1104.7 C599.5,1106.5 598.8,1107.4 602.5,1108.1 C606.2,1108.8 613.5,1108.7 617.8,1109.0 C622.0,1109.3 626.0,1107.5 628.0,1109.8 C630.0,1112.1 626.0,1118.1 629.7,1122.6 C633.4,1127.1 646.0,1133.2 650.1,1137.0 C654.2,1140.8 653.7,1141.2 654.3,1145.5 C654.9,1149.8 654.8,1157.4 653.5,1162.5 C652.2,1167.6 647.8,1170.1 646.7,1176.1 C645.6,1182.0 647.4,1193.8 646.7,1198.2 C646.0,1202.6 641.5,1202.4 642.4,1202.4 C643.2,1202.4 648.5,1197.8 651.8,1198.2 C655.1,1198.6 659.9,1202.0 662.0,1205.0 C664.1,1208.0 663.1,1211.8 664.5,1216.0 C665.9,1220.2 668.0,1226.3 670.4,1230.4 C672.8,1234.5 676.6,1236.6 678.9,1240.6 C681.2,1244.6 683.1,1251.0 684.0,1254.2 C684.9,1257.5 683.9,1256.3 684.5,1260.1 C685.1,1263.9 687.5,1271.8 687.6,1277.2 C687.7,1282.6 686.3,1289.0 685.3,1292.7 C684.3,1296.5 683.9,1297.4 681.4,1299.7 C678.9,1302.0 673.9,1303.9 670.5,1306.6 C667.1,1309.3 663.3,1313.2 661.3,1316.0 C659.2,1318.8 660.3,1321.4 658.2,1323.7 C656.1,1326.0 650.9,1327.8 648.8,1329.9 C646.7,1332.0 646.5,1332.5 645.7,1336.1 C644.9,1339.7 646.2,1348.9 644.2,1351.6 C642.2,1354.3 637.0,1352.5 633.4,1352.4 C629.8,1352.3 625.9,1351.7 622.5,1350.8 C619.1,1349.9 616.6,1347.6 613.2,1347.0 C609.9,1346.4 605.8,1346.0 602.4,1347.0 C599.0,1348.0 595.3,1350.9 593.0,1353.2 C590.7,1355.5 590.5,1358.3 588.4,1360.9 C586.3,1363.5 583.2,1367.3 580.6,1368.6 C578.0,1369.9 575.7,1367.9 572.9,1368.6 C570.1,1369.2 567.2,1372.5 563.6,1372.5 C560.0,1372.5 554.8,1370.5 551.2,1368.6 C547.6,1366.7 544.2,1363.5 541.9,1360.9 C539.6,1358.3 539.4,1355.5 537.3,1353.2 C535.2,1350.9 532.4,1349.8 529.5,1347.0 C526.6,1344.2 523.3,1338.9 520.2,1336.1 C517.1,1333.2 513.5,1332.0 510.9,1329.9 C508.3,1327.8 507.3,1325.9 504.7,1323.7 C502.1,1321.5 497.3,1318.9 495.4,1316.7 C493.5,1314.5 495.2,1312.0 493.1,1310.5 C491.0,1309.0 487.3,1307.8 483.0,1307.4 C478.7,1307.0 472.4,1308.5 467.5,1308.2 C462.6,1308.0 456.9,1306.9 453.5,1305.9 C450.1,1304.9 448.7,1304.2 447.3,1302.0 C445.9,1299.8 446.8,1296.0 445.0,1292.7 C443.2,1289.4 438.9,1284.7 436.5,1281.9 C434.1,1279.1 432.9,1276.5 430.3,1275.7 C427.7,1274.9 424.4,1275.7 421.0,1277.2 C417.6,1278.8 413.7,1282.2 410.1,1285.0 C406.5,1287.8 403.5,1292.6 399.3,1294.3 C395.1,1296.0 389.8,1295.7 384.9,1295.4 C380.0,1295.1 373.3,1294.0 370.2,1292.6 C367.1,1291.2 371.4,1288.5 366.5,1287.1 C361.6,1285.7 349.1,1284.3 340.8,1284.3 C332.5,1284.3 325.1,1286.6 316.8,1287.1 C308.5,1287.6 296.2,1288.9 291.1,1287.1 C286.1,1285.2 288.0,1278.0 286.5,1276.0 C285.0,1274.0 285.7,1274.8 281.9,1275.1 C278.1,1275.4 269.0,1277.9 263.5,1277.9 C258.0,1277.9 253.7,1275.9 248.8,1275.1 C243.9,1274.3 239.8,1273.9 234.0,1273.3 C228.2,1272.7 219.6,1270.6 213.8,1271.4 C208.0,1272.2 203.7,1275.9 199.1,1277.9 C194.5,1279.9 191.1,1281.2 186.2,1283.4 C181.3,1285.6 174.6,1288.0 169.7,1290.8 C164.8,1293.6 159.8,1296.6 156.8,1300.0 C153.9,1303.4 153.8,1308.5 152.0,1311.0 C150.2,1313.5 148.1,1314.3 146.0,1315.3 C143.9,1316.3 141.2,1318.5 139.5,1316.8 C137.8,1315.1 137.1,1308.8 136.0,1305.0 C134.9,1301.2 133.8,1297.3 133.2,1293.8 C132.6,1290.3 133.0,1286.5 132.2,1284.2 C131.4,1281.9 128.5,1284.7 128.3,1279.7 Z" fill="#fff"/>
<path d="M128.3,1279.7 C128.8,1275.4 129.8,1261.3 131.0,1254.0 C132.2,1246.7 134.2,1242.3 135.6,1235.6 C137.0,1228.8 137.9,1218.4 139.3,1213.5 C140.7,1208.6 141.0,1208.9 143.9,1206.1 C146.8,1203.3 153.1,1200.6 156.8,1196.9 C160.5,1193.2 164.0,1188.0 166.0,1184.0 C168.0,1180.0 168.2,1178.2 168.7,1173.0 C169.1,1167.8 167.9,1157.7 168.7,1152.8 C169.5,1147.9 170.1,1149.4 173.3,1143.6 C176.5,1137.8 184.4,1123.8 188.1,1117.8 C191.8,1111.8 190.5,1110.2 195.4,1107.7 C200.3,1105.2 207.4,1106.9 217.5,1103.1 C227.6,1099.3 248.3,1087.6 256.1,1084.7 C263.9,1081.8 263.0,1084.2 264.4,1085.6 C265.8,1087.0 264.5,1090.1 264.4,1093.0 C264.2,1095.9 262.7,1099.9 263.5,1103.1 C264.3,1106.3 265.6,1108.6 269.0,1112.3 C272.4,1116.0 280.3,1121.8 283.7,1125.2 C287.1,1128.6 286.1,1129.8 289.2,1132.5 C292.3,1135.2 298.7,1136.8 302.1,1141.7 C305.5,1146.6 307.8,1156.5 309.5,1162.0 C311.2,1167.5 310.4,1171.5 312.2,1174.9 C314.0,1178.3 317.9,1180.4 320.5,1182.2 C323.1,1184.0 325.3,1184.1 327.9,1185.9 C330.5,1187.8 333.4,1192.1 336.2,1193.3 C338.9,1194.5 340.3,1194.8 344.4,1193.3 C348.5,1191.8 356.7,1186.8 361.0,1184.0 C365.3,1181.2 367.0,1179.0 370.2,1176.7 C373.4,1174.4 376.7,1172.7 380.0,1170.0 C383.3,1167.3 388.4,1164.3 390.2,1160.8 C392.0,1157.3 391.3,1159.4 391.0,1148.9 C390.7,1138.4 389.4,1110.4 388.5,1097.9 C387.6,1085.5 386.0,1079.0 385.9,1074.2 C385.8,1069.4 386.3,1069.8 387.6,1069.1 C388.9,1068.4 391.8,1071.0 393.6,1069.9 C395.5,1068.8 396.1,1064.1 398.7,1062.3 C401.2,1060.5 406.1,1059.6 408.9,1058.9 C411.7,1058.2 413.1,1058.8 415.7,1058.0 C418.2,1057.2 421.1,1055.3 424.2,1053.8 C427.3,1052.2 431.6,1050.8 434.4,1048.7 C437.2,1046.6 438.9,1042.6 441.1,1041.0 C443.4,1039.4 445.6,1039.3 447.9,1039.3 C450.2,1039.3 453.3,1039.2 454.7,1041.0 C456.1,1042.8 455.7,1050.7 456.4,1050.4 C457.1,1050.1 457.0,1039.9 459.0,1039.3 C461.0,1038.7 465.6,1044.9 468.3,1047.0 C471.0,1049.1 472.8,1050.5 475.1,1052.1 C477.4,1053.6 479.6,1054.5 481.9,1056.3 C484.2,1058.1 486.4,1062.1 488.7,1063.1 C491.0,1064.1 492.9,1061.2 495.5,1062.3 C498.1,1063.4 500.6,1068.5 504.0,1069.9 C507.4,1071.3 513.6,1068.7 515.9,1070.8 C518.2,1072.9 515.9,1080.2 517.6,1082.7 C519.3,1085.2 524.1,1084.1 526.1,1086.1 C528.1,1088.1 528.1,1091.7 529.5,1094.5 C530.9,1097.3 531.5,1100.5 534.6,1103.0 C537.7,1105.5 545.5,1107.8 548.2,1109.8 C550.9,1111.8 548.5,1115.5 550.7,1114.9 C553.0,1114.3 557.9,1109.0 561.7,1106.4 C565.5,1103.9 570.6,1101.1 573.6,1099.6 C576.6,1098.0 575.9,1096.2 579.6,1097.1 C583.3,1097.9 591.9,1102.9 595.7,1104.7 C599.5,1106.5 598.8,1107.4 602.5,1108.1 C606.2,1108.8 613.5,1108.7 617.8,1109.0 C622.0,1109.3 626.0,1107.5 628.0,1109.8 C630.0,1112.1 626.0,1118.1 629.7,1122.6 C633.4,1127.1 646.0,1133.2 650.1,1137.0 C654.2,1140.8 653.7,1141.2 654.3,1145.5 C654.9,1149.8 654.8,1157.4 653.5,1162.5 C652.2,1167.6 647.8,1170.1 646.7,1176.1 C645.6,1182.0 647.4,1193.8 646.7,1198.2 C646.0,1202.6 641.5,1202.4 642.4,1202.4 C643.2,1202.4 648.5,1197.8 651.8,1198.2 C655.1,1198.6 659.9,1202.0 662.0,1205.0 C664.1,1208.0 663.1,1211.8 664.5,1216.0 C665.9,1220.2 668.0,1226.3 670.4,1230.4 C672.8,1234.5 676.6,1236.6 678.9,1240.6 C681.2,1244.6 683.1,1251.9 684.0,1254.2" fill="none" stroke="#000" stroke-width="6" stroke-linejoin="round" stroke-linecap="round"/>
<polyline points="372.6,1197.5 338.6,1207.6 287.9,1198.1" fill="none" stroke="#29a8e0" stroke-width="5" stroke-linejoin="round"/>
<polyline points="372.6,1197.5 336.4,1251 142,1254.5" fill="none" stroke="#e9614a" stroke-width="5" stroke-linejoin="round"/>
<polyline points="372.6,1197.5 398,1171 401.5,1149 402.3,1137.1" fill="none" stroke="#ffdd00" stroke-width="5" stroke-linejoin="round"/>
<polyline points="372.6,1197.5 438,1163.5 497.8,1100.6 525,1075.6" fill="none" stroke="#8cc24d" stroke-width="5" stroke-linejoin="round"/>
<polyline points="372.6,1197.5 458,1247 495,1245 523,1245.5 617,1254 649,1262.5 675,1269.3" fill="none" stroke="#9d88c3" stroke-width="5" stroke-linejoin="round"/>
<polyline points="523,1245.5 557,1341.6 590,1341.6 637,1341" fill="none" stroke="#9d88c3" stroke-width="5" stroke-linejoin="round"/>
<polyline points="495,1245 531,1212 569,1166" fill="none" stroke="#9d88c3" stroke-width="5" stroke-linejoin="round"/>
<circle cx="287.9" cy="1198.1" r="8.3" fill="#29a8e0"/>
<circle cx="336.4" cy="1251" r="8.5" fill="#e9614a"/>
<circle cx="142" cy="1254.5" r="8.5" fill="#e9614a"/>
<circle cx="402.3" cy="1137.1" r="8.5" fill="#ffdd00"/>
<circle cx="438" cy="1163.5" r="8.5" fill="#8cc24d"/>
<circle cx="497.8" cy="1100.6" r="8.5" fill="#8cc24d"/>
<circle cx="525" cy="1075.6" r="8.5" fill="#8cc24d"/>
<circle cx="458" cy="1247" r="8.5" fill="#9d88c3"/>
<circle cx="495" cy="1245" r="8.5" fill="#9d88c3"/>
<circle cx="523" cy="1245.5" r="8.5" fill="#9d88c3"/>
<circle cx="617" cy="1254" r="8.5" fill="#9d88c3"/>
<circle cx="649" cy="1262.5" r="8.5" fill="#9d88c3"/>
<circle cx="675" cy="1269.3" r="8.5" fill="#9d88c3"/>
<circle cx="557" cy="1341.6" r="8.5" fill="#9d88c3"/>
<circle cx="590" cy="1341.6" r="8.5" fill="#9d88c3"/>
<circle cx="637" cy="1341" r="8.5" fill="#9d88c3"/>
<circle cx="531" cy="1212" r="8.5" fill="#9d88c3"/>
<circle cx="569" cy="1166" r="8.5" fill="#9d88c3"/>
<circle cx="372.6" cy="1197.5" r="9.4" fill="#000"/>
<text x="267.6" y="1203.5" font-size="14" text-anchor="end" fill="#29a8e0" >Tukums II</text>
<text x="148.3" y="1240.1" font-size="14" fill="#e9614a" >Liepāja</text>
<text x="308.2" y="1273.2" font-size="14" fill="#e9614a" >Jelgava</text>
<text x="331.8" y="1172.4" font-size="12.9" font-weight="bold" fill="#000" >Rīga</text>
<text x="410.5" y="1130.3" font-size="14" fill="#ffdd00" >Skulte</text>
<text x="454.2" y="1171.1" font-size="14" fill="#8cc24d" >Sigulda</text>
<text x="482.2" y="1102.3" font-size="14" text-anchor="end" fill="#8cc24d" >Valmiera</text>
<text x="539.2" y="1080.2" font-size="14" fill="#8cc24d" >Valga</text>
<text x="549.9" y="1153.3" font-size="14" fill="#9d88c3" >Gulbene</text>
<text x="514.2" y="1209.4" font-size="14" text-anchor="end" fill="#9d88c3" >Madona</text>
<text x="535.3" y="1238.3" font-size="14" fill="#9d88c3" >Krustpils</text>
<text x="433.2" y="1252.7" font-size="14" text-anchor="end" fill="#9d88c3" >Aizkraukle</text>
<text x="454.9" y="1273.6" font-size="14" fill="#9d88c3" >Pļaviņas</text>
<text x="546.7" y="1277.8" font-size="14" fill="#9d88c3" >Rēzekne II</text>
<text x="625.7" y="1289.7" font-size="14" fill="#9d88c3" >Ludza</text>
<text x="692.9" y="1272.7" font-size="14" fill="#9d88c3" >Zilupe</text>
<text x="575.6" y="1326.3" font-size="14" fill="#9d88c3" >Krāslava</text>
<text x="469.6" y="1346.7" font-size="14" fill="#9d88c3" >Daugavpils</text>
<text x="656.3" y="1345.0" font-size="14" fill="#9d88c3" >Indra</text>
<text x="1158.5" y="1316" font-size="29" font-weight="bold" fill="#fff" textLength="160" lengthAdjust="spacingAndGlyphs">MARŠRUTU</text>
<text x="1158.5" y="1350.7" font-size="29" font-weight="bold" fill="#fff" textLength="104" lengthAdjust="spacingAndGlyphs">SHĒMA</text>
<line x1="1395.7" y1="1294.4" x2="1395.7" y2="1358.8" stroke="#fff" stroke-width="1.6"/>
<text x="1483.4" y="1316" font-size="29" fill="#fff" textLength="92" lengthAdjust="spacingAndGlyphs">ROUTE</text>
<text x="1483.4" y="1350.7" font-size="29" fill="#fff" textLength="112.5" lengthAdjust="spacingAndGlyphs">SCHEME</text>
<line x1="1680.6" y1="1294.4" x2="1680.6" y2="1358.8" stroke="#fff" stroke-width="1.6"/>
<g fill="#fdc513"><path d="M1770.5,1301 H1781 Q1784.5,1301 1786.2,1304.7 L1798.3,1326.7 Q1810,1306 1829.8,1301 H1935.3 L1931,1309 Q1929,1312.8 1925,1312.8 H1830 Q1818,1312.8 1812,1322 L1798.3,1351.9 Z"/><path d="M1823.5,1323 H1840.8 L1828.5,1347.5 Q1826,1352.4 1821,1352.4 H1812 Z"/><path d="M1855.5,1323 H1872 L1859,1340.5 H1866 Q1873,1340 1876,1334 L1881.5,1323 H1896 L1889,1337 Q1880,1352.4 1862,1352.4 H1839 Z"/><path d="M1908,1323 H1922.7 L1911,1347.5 Q1908.5,1352.4 1904,1352.4 H1893.5 Z"/></g>
</svg>
</body></html>
